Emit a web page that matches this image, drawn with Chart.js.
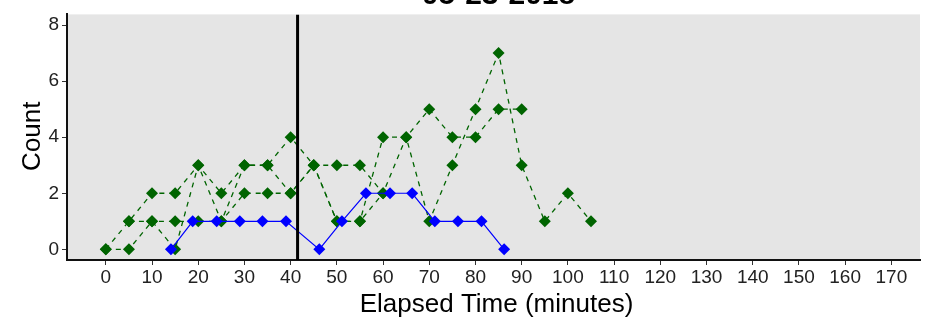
<!DOCTYPE html>
<html>
<head>
<meta charset="utf-8">
<script src="https://cdn.jsdelivr.net/npm/chart.js@4/dist/chart.umd.min.js"></script>
<style>
html,body{margin:0;padding:0;background:#fff;}
#wrap{width:926px;height:322px;position:relative;}
</style>
</head>
<body>
<div id="wrap"><canvas id="c" width="926" height="322"></canvas></div>
<script>
// ---- data ----
const chartTitle = '05-23-2018';
const xTitle = 'Elapsed Time (minutes)';
const yTitle = 'Count';
const xTicks = [0,10,20,30,40,50,60,70,80,90,100,110,120,130,140,150,160,170];
const yTicks = [0,2,4,6,8];
const xRange = [-8.4, 176.2];
const yRange = [-0.38, 8.38];

const greenTimesA  = [0,5,10,15,20,25,30,35,40,45,50,55,60,65,70,75,80,85,90];
const greenCountsA = [0,1,2,2,3,2,3,3,4,3,3,3,2,4,5,4,4,5,5];

const greenTimesB  = [0,5,10,15,20,25,30,35,40,45,50,55,60,65,70,75,80,85,90,95,100,105];
const greenCountsB = [0,0,1,0,3,1,3,3,2,3,1,1,4,4,1,3,5,7,3,1,2,1];

const greenTimesC  = [5,10,15,20,25,30,35,40,45,50,55,60];
const greenCountsC = [1,1,1,1,1,2,2,2,3,1,1,2];

const blueTimes  = [14.1,18.8,24.0,29.0,33.9,39.0,46.2,51.1,56.3,61.5,66.3,71.2,76.2,81.3,86.2];
const blueCounts = [0,1,1,1,1,1,0,1,2,2,2,1,1,1,0];

const markerTime = 41.5;

// ---- build ----
const pts = (t, v) => t.map((x, i) => ({x: x, y: v[i]}));
const GREEN = '#006400';
const BLUE = '#0000FF';
const FONT = "'Liberation Sans', Arial, sans-serif";

const greenStyle = {
  borderColor: GREEN, backgroundColor: GREEN, borderWidth: 1.3,
  borderDash: [5, 5], pointStyle: 'rectRot', pointRadius: 6,
  pointBackgroundColor: GREEN, pointBorderColor: GREEN, pointBorderWidth: 0,
  tension: 0, showLine: true
};

const bgPlugin = {
  id: 'bg',
  beforeDraw(chart) {
    const {ctx, chartArea: a} = chart;
    ctx.save();
    ctx.fillStyle = '#fff';
    ctx.fillRect(0, 0, chart.width, chart.height);
    ctx.fillStyle = '#E5E5E5';
    ctx.fillRect(a.left, a.top, a.right - a.left, a.bottom - a.top);
    ctx.restore();
  },
  afterDraw(chart) {
    const {ctx, chartArea: a} = chart;
    ctx.save();
    ctx.fillStyle = '#000';
    ctx.textAlign = 'center';
    ctx.textBaseline = 'alphabetic';
    ctx.font = 'bold 30px ' + FONT;
    ctx.fillText(chartTitle, (a.left + a.right) / 2 + 5, 4);
    ctx.font = '26px ' + FONT;
    ctx.fillText(xTitle, (a.left + a.right) / 2 + 3, 312);
    ctx.translate(40, (a.top + a.bottom) / 2 - 1);
    ctx.rotate(-Math.PI / 2);
    ctx.fillText(yTitle, 0, 0);
    ctx.restore();
  }
};

new Chart(document.getElementById('c'), {
  type: 'scatter',
  data: {
    datasets: [
      {label: 'marker', data: [{x: markerTime, y: yRange[0]}, {x: markerTime, y: yRange[1]}],
       borderColor: '#000', borderWidth: 3, pointRadius: 0, showLine: true, tension: 0},
      {label: 'blue', data: pts(blueTimes, blueCounts), borderColor: BLUE, backgroundColor: BLUE,
       borderWidth: 1.2, pointStyle: 'rectRot', pointRadius: 6, pointBorderWidth: 0,
       pointBackgroundColor: BLUE, showLine: true, tension: 0},
      Object.assign({label: 'A', data: pts(greenTimesA, greenCountsA)}, greenStyle),
      Object.assign({label: 'B', data: pts(greenTimesB, greenCountsB)}, greenStyle),
      Object.assign({label: 'C', data: pts(greenTimesC, greenCountsC)}, greenStyle)
    ]
  },
  options: {
    responsive: false,
    animation: false,
    devicePixelRatio: 1,
    layout: {padding: {top: 8, right: 5, left: 0, bottom: 0}},
    plugins: {legend: {display: false}, tooltip: {enabled: false}, title: {display: false}},
    scales: {
      x: {
        type: 'linear', min: xRange[0], max: xRange[1],
        afterBuildTicks: s => { s.ticks = xTicks.map(v => ({value: v})); },
        afterFit: s => { s.height = 62; },
        grid: {display: true, drawOnChartArea: false, drawTicks: true, tickLength: 5, color: '#333', lineWidth: 1},
        border: {display: true, color: '#111', width: 2},
        ticks: {font: {family: FONT, size: 19}, color: '#222', padding: 1, maxRotation: 0, autoSkip: false}
      },
      y: {
        type: 'linear', min: yRange[0], max: yRange[1],
        afterBuildTicks: s => { s.ticks = yTicks.map(v => ({value: v})); },
        afterFit: s => { s.width = 67; },
        grid: {display: true, drawOnChartArea: false, drawTicks: true, tickLength: 5, color: '#333', lineWidth: 1},
        border: {display: true, color: '#111', width: 2},
        ticks: {font: {family: FONT, size: 19}, color: '#222', padding: 3}
      }
    }
  },
  plugins: [bgPlugin]
});
</script>
</body>
</html>
